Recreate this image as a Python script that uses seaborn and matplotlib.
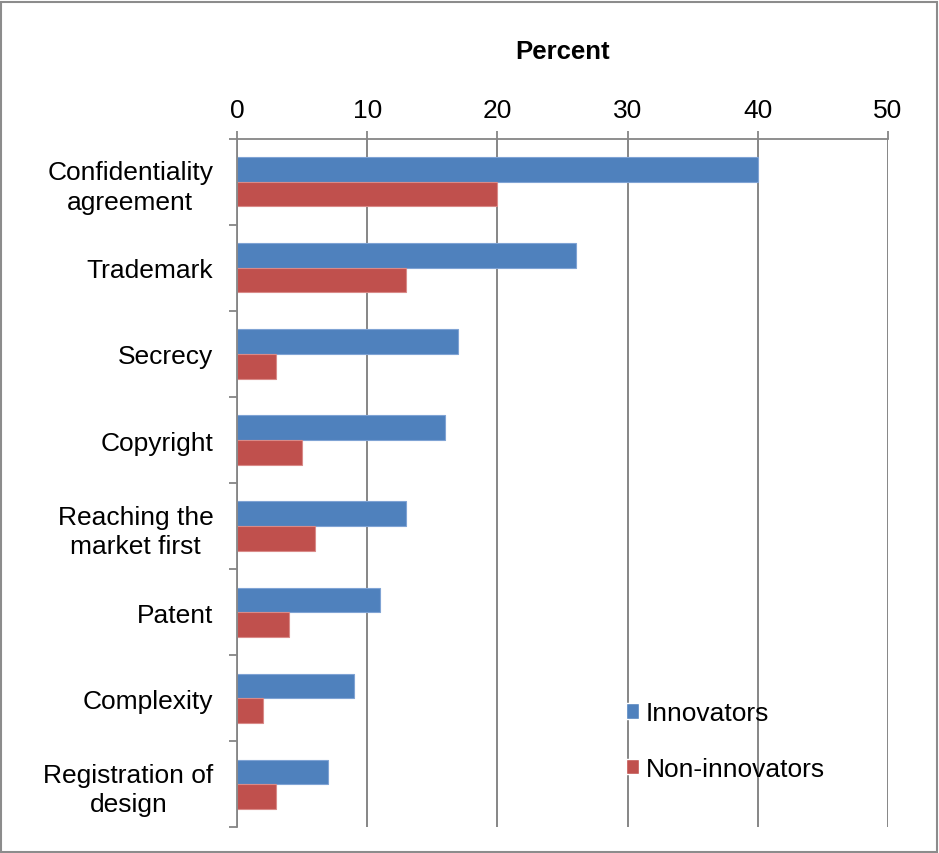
import matplotlib
matplotlib.use("Agg")
import matplotlib.pyplot as plt
from matplotlib.patches import Rectangle
from matplotlib.ticker import FixedLocator
import pandas as pd
import seaborn as sns

categories = [
    "Confidentiality\nagreement",
    "Trademark",
    "Secrecy",
    "Copyright",
    "Reaching the\nmarket first",
    "Patent",
    "Complexity",
    "Registration of\ndesign",
]
innovators = [40, 26, 17, 16, 13, 11, 9, 7]
non_innovators = [20, 13, 3, 5, 6, 4, 2, 3]
series_names = ["Innovators", "Non-innovators"]
x_ticks = [0, 10, 20, 30, 40, 50]

df = pd.DataFrame({
    "category": categories * 2,
    "value": innovators + non_innovators,
    "group": [series_names[0]] * len(categories) + [series_names[1]] * len(categories),
})

sns.set_theme(style="white")
plt.rcParams["font.family"] = ["Liberation Sans", "DejaVu Sans"]
plt.rcParams["text.color"] = "black"

fig = plt.figure(figsize=(9.39, 8.54), dpi=100)
ax = fig.add_axes([0.2524, 0.0304, 0.6933, 0.8057])

palette = {"Innovators": "#4F81BD", "Non-innovators": "#C0504D"}
edges = {"Innovators": "#7FA3D4", "Non-innovators": "#D98A88"}
sns.barplot(data=df, y="category", x="value", hue="group", order=categories,
            hue_order=series_names, palette=palette, orient="h", width=0.57,
            ax=ax, saturation=1, legend=True)
for container, name in zip(ax.containers, series_names):
    for bar in container:
        bar.set_edgecolor(edges[name])
        bar.set_linewidth(0.8)

ax.set_xlim(0, 50)
ax.set_ylim(len(categories) - 0.5, -0.5)
ax.xaxis.tick_top()
ax.xaxis.set_label_position("top")
ax.set_xticks(x_ticks)
ax.set_xticklabels([str(t) for t in x_ticks], fontsize=19)
ax.set_xlabel("Percent", fontsize=18.5, fontweight="bold", labelpad=29, color="black")
ax.set_ylabel("")
ax.tick_params(axis="x", which="major", direction="out", length=6, width=1.3,
               color="#868686", pad=6, labelcolor="black")

ax.grid(axis="x", color="#868686", linewidth=1.4)
ax.set_axisbelow(True)

ax.tick_params(axis="y", which="major", length=0, pad=17, labelsize=19, labelcolor="black")
for lbl in ax.get_yticklabels():
    lbl.set_multialignment("center")
    lbl.set_linespacing(1.3)
ax.yaxis.set_minor_locator(FixedLocator([i - 0.5 for i in range(len(categories) + 1)]))
ax.tick_params(axis="y", which="minor", direction="out", length=6, width=1.3,
               color="#868686", left=True)

for side in ["bottom", "right"]:
    ax.spines[side].set_visible(False)
for side in ["left", "top"]:
    ax.spines[side].set_color("#868686")
    ax.spines[side].set_linewidth(1.3)

handles, labels = ax.get_legend_handles_labels()
ax.legend(handles, labels, loc="upper left", bbox_to_anchor=(0.655, 0.19),
          bbox_transform=fig.transFigure, frameon=False, fontsize=19,
          handlelength=0.52, handleheight=0.52, handletextpad=0.25,
          labelspacing=1.2, borderaxespad=0)

fig.patches.append(Rectangle((0.0015, 0.0015), 0.996, 0.995, transform=fig.transFigure,
                             fill=False, edgecolor="#8C8C8C", linewidth=1.5))

fig.savefig("out.png", dpi=100, facecolor="white")
